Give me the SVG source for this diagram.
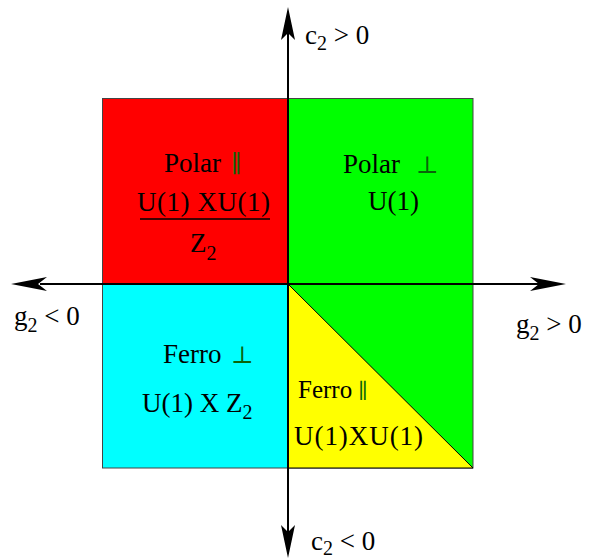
<svg xmlns="http://www.w3.org/2000/svg" width="590" height="559" viewBox="0 0 590 559">
<style>
  .t { font-family: "Liberation Serif", "Times New Roman", serif; font-size: 27px; fill: #000; }
  .s { font-size: 20px; }
  .sym { font-family: "DejaVu Sans", "DejaVu Serif", sans-serif; fill: #0a640a; font-size: 24px; font-weight: 200; }
  .reg { stroke: #444; stroke-width: 1; }
  .ax { stroke: #000; stroke-width: 2; fill: none; }
  .head { fill: #000; stroke: none; }
</style>
<rect width="590" height="559" fill="#fff"/>
<g id="region-red">
  <rect class="reg" x="102.5" y="98.5" width="185.5" height="185.5" fill="#ff0000"/>
  <text class="t" x="164" y="172">Polar</text>
  <text class="sym" x="231" y="172">∥</text>
  <text class="t" x="137" y="211" textLength="133" lengthAdjust="spacing">U(1) XU(1)</text>
  <line x1="140" y1="219" x2="270" y2="219" stroke="#000" stroke-width="1.5"/>
  <text class="t" x="190" y="252">Z<tspan class="s" dy="8">2</tspan></text>
</g>
<g id="region-green">
  <rect class="reg" x="288" y="98.5" width="185" height="369.5" fill="#00ff00"/>
  <text class="t" x="343" y="173">Polar</text>
  <text class="sym" x="416" y="173">⊥</text>
  <text class="t" x="368" y="210">U(1)</text>
</g>
<g id="region-cyan">
  <rect class="reg" x="102.5" y="284" width="185.5" height="184" fill="#00ffff"/>
  <text class="t" x="163" y="363">Ferro</text>
  <text class="sym" x="231" y="363">⊥</text>
  <text class="t" x="142" y="412">U(1) X Z<tspan class="s" dy="7">2</tspan></text>
</g>
<g id="region-yellow">
  <polygon points="288,284 288,468 473,468" fill="#ffff00" stroke="#000" stroke-width="1"/>
  <text class="t" x="298" y="398" style="font-size:25px">Ferro</text>
  <text class="sym" x="358" y="398" style="font-size:21px">∥</text>
  <text class="t" x="294" y="445" textLength="129" lengthAdjust="spacing">U(1)XU(1)</text>
</g>
<g id="connectors">
  <line class="ax" x1="40" y1="284" x2="540" y2="284"/>
  <line class="ax" x1="288" y1="30" x2="288" y2="535"/>
  <path class="head" d="M11,284 L47,277 L38,284 L47,291 Z"/>
  <path class="head" d="M566,284 L530,277 L539,284 L530,291 Z"/>
  <path class="head" d="M288,7 L295,40 L288,33 L281,40 Z"/>
  <path class="head" d="M288,558 L295,525 L288,532 L281,525 Z"/>
</g>
<g id="labels">
  <text class="t" x="305" y="44">c<tspan class="s" dy="6">2</tspan><tspan dy="-6"> &gt; 0</tspan></text>
  <text class="t" x="14" y="325">g<tspan class="s" dy="7">2</tspan><tspan dy="-7"> &lt; 0</tspan></text>
  <text class="t" x="516" y="333">g<tspan class="s" dy="7">2</tspan><tspan dy="-7"> &gt; 0</tspan></text>
  <text class="t" x="311" y="550">c<tspan class="s" dy="5">2</tspan><tspan dy="-5"> &lt; 0</tspan></text>
</g>
</svg>
